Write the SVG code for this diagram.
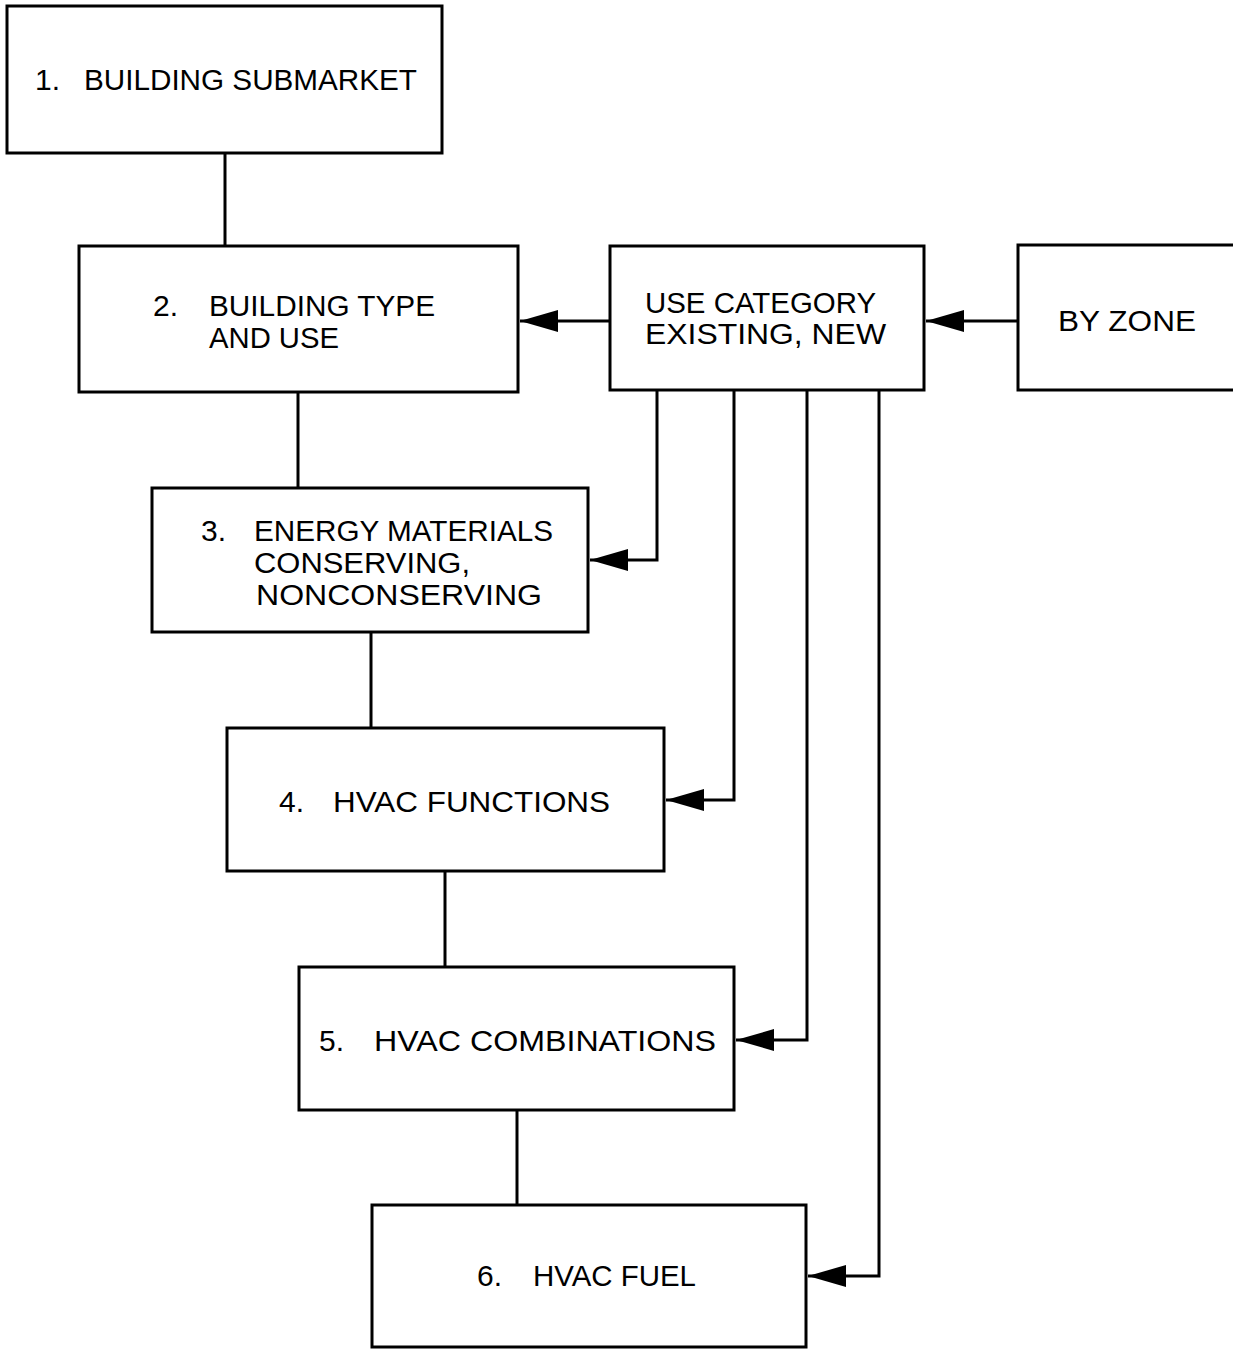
<svg xmlns="http://www.w3.org/2000/svg" width="1233" height="1349" viewBox="0 0 1233 1349">
<style>
.box{fill:#fff;stroke:#000;stroke-width:3}
.ln{fill:none;stroke:#000;stroke-width:3}
.t{font-family:"Liberation Sans",Arial,sans-serif;font-size:30px;fill:#000}
</style>
<defs>
<marker id="ah" markerWidth="38" markerHeight="22" refX="38" refY="11" orient="auto" markerUnits="userSpaceOnUse">
<path d="M0,0 L38,11 L0,22 Z" fill="#000"/>
</marker>
</defs>
<rect width="1233" height="1349" fill="#fff"/>
<g id="connectors">
<line class="ln" x1="225" y1="153" x2="225" y2="246"/>
<line class="ln" x1="298" y1="392" x2="298" y2="488"/>
<line class="ln" x1="371" y1="632" x2="371" y2="728"/>
<line class="ln" x1="445" y1="871" x2="445" y2="967"/>
<line class="ln" x1="517" y1="1110" x2="517" y2="1205"/>
<path class="ln" d="M610,321 H520" marker-end="url(#ah)"/>
<path class="ln" d="M1018,321 H926" marker-end="url(#ah)"/>
<path class="ln" d="M657,390 V560 H590" marker-end="url(#ah)"/>
<path class="ln" d="M734,390 V800 H666" marker-end="url(#ah)"/>
<path class="ln" d="M807,390 V1040 H736" marker-end="url(#ah)"/>
<path class="ln" d="M879,390 V1276 H808" marker-end="url(#ah)"/>
</g>
<g id="node1">
<rect class="box" x="7" y="6" width="435" height="147"/>
<text class="t" x="35" y="90">1.</text>
<text class="t" x="84" y="90" textLength="333" lengthAdjust="spacingAndGlyphs">BUILDING SUBMARKET</text>
</g>
<g id="node2">
<rect class="box" x="79" y="246" width="439" height="146"/>
<text class="t" x="153" y="316">2.</text>
<text class="t" x="209" y="316" textLength="226" lengthAdjust="spacingAndGlyphs">BUILDING TYPE</text>
<text class="t" x="209" y="348" textLength="130" lengthAdjust="spacingAndGlyphs">AND USE</text>
</g>
<g id="nodeUse">
<rect class="box" x="610" y="246" width="314" height="144"/>
<text class="t" x="645" y="313" textLength="231" lengthAdjust="spacingAndGlyphs">USE CATEGORY</text>
<text class="t" x="645" y="344" textLength="241" lengthAdjust="spacingAndGlyphs">EXISTING, NEW</text>
</g>
<g id="nodeZone">
<rect class="box" x="1018" y="245" width="230" height="145"/>
<text class="t" x="1058" y="331" textLength="138" lengthAdjust="spacingAndGlyphs">BY ZONE</text>
</g>
<g id="node3">
<rect class="box" x="152" y="488" width="436" height="144"/>
<text class="t" x="201" y="541">3.</text>
<text class="t" x="254" y="541" textLength="299" lengthAdjust="spacingAndGlyphs">ENERGY MATERIALS</text>
<text class="t" x="254" y="573" textLength="216" lengthAdjust="spacingAndGlyphs">CONSERVING,</text>
<text class="t" x="256" y="605" textLength="286" lengthAdjust="spacingAndGlyphs">NONCONSERVING</text>
</g>
<g id="node4">
<rect class="box" x="227" y="728" width="437" height="143"/>
<text class="t" x="279" y="812">4.</text>
<text class="t" x="333" y="812" textLength="277" lengthAdjust="spacingAndGlyphs">HVAC FUNCTIONS</text>
</g>
<g id="node5">
<rect class="box" x="299" y="967" width="435" height="143"/>
<text class="t" x="319" y="1051">5.</text>
<text class="t" x="374" y="1051" textLength="342" lengthAdjust="spacingAndGlyphs">HVAC COMBINATIONS</text>
</g>
<g id="node6">
<rect class="box" x="372" y="1205" width="434" height="142"/>
<text class="t" x="477" y="1286">6.</text>
<text class="t" x="533" y="1286" textLength="163" lengthAdjust="spacingAndGlyphs">HVAC FUEL</text>
</g>
</svg>
